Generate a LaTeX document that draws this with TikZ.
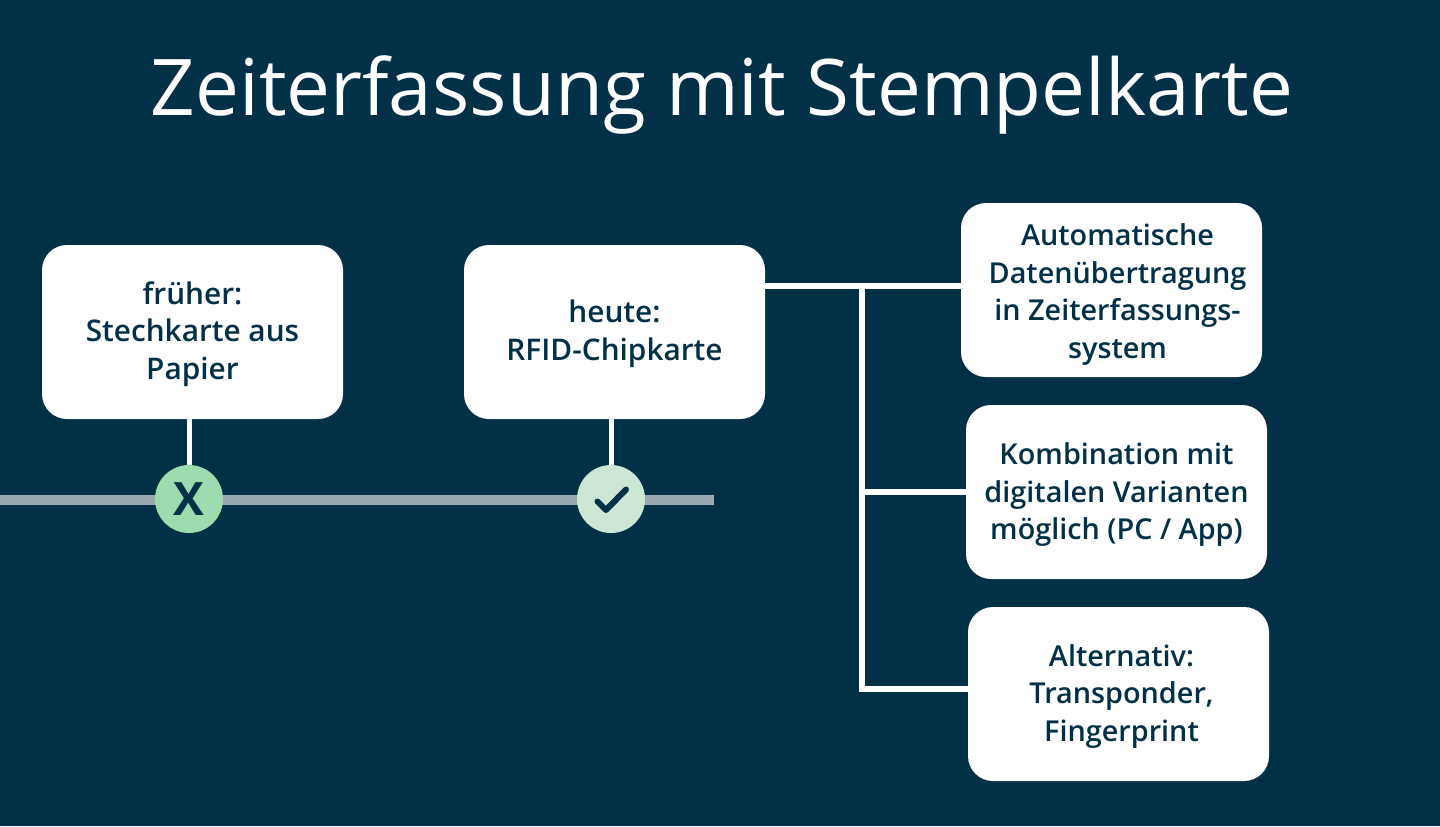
\documentclass[tikz,border=0pt]{standalone}
\usepackage{xcolor}
\usepackage{fontspec}
\setmainfont{Open Sans}
\newfontfamily\titlefont{Open Sans}
\newfontfamily\labelfont{Open Sans Semibold}
\usetikzlibrary{arrows.meta}
\definecolor{nightblue}{HTML}{023047}
\definecolor{railgrey}{HTML}{9AA8B0}
\definecolor{mintdark}{HTML}{9DDCAE}
\definecolor{mintlight}{HTML}{CCE8D5}
\newcommand{\lift}[1]{\rule{0pt}{#1pt}}
\tikzset{
	infobox/.style={fill=white, text=nightblue, rounded corners=12.5pt, minimum width=150.5pt, minimum height=87pt, inner sep=0pt, align=center, font=\labelfont\fontsize{14.4}{18.75}\selectfont},
	widebox/.style={infobox, font=\labelfont\fontsize{14.9}{18.75}\selectfont},
	stage/.style={shape=circle, minimum size=34pt, inner sep=0pt, text=nightblue},
	wire/.style={draw=white, line width=3pt},
	stem/.style={draw=white, line width=2.5pt},
	rail/.style={draw=railgrey, line width=5pt}
}

\begin{document}
\begin{tikzpicture}[x=0.5pt, y=-0.5pt]
	\useasboundingbox (0, 0) rectangle (1440, 826);
	\node [fill=nightblue, minimum width=720pt, minimum height=413pt, inner sep=0pt, anchor=north west] (back) at (0, 0) {};
	\node [text=white, anchor=base, font=\titlefont\fontsize{39.1}{47}\selectfont] (title) at (722, 115) {Zeiterfassung mit Stempelkarte};
	\node [widebox] (frueher) at (192.5, 332) {\lift{13.3}früher:\\Stechkarte aus\\Papier};
	\node [widebox] (heute) at (614.5, 332) {\lift{13.3}heute:\\RFID-Chipkarte};
	\node [infobox] (auto) at (1111.5, 290) {\lift{15.4}\hspace*{6pt}Automatische\\\hspace*{6pt}Datenübertragung\\\hspace*{6pt}in Zeiterfassungs-\\\hspace*{6pt}system};
	\node [infobox] (kombi) at (1116.5, 492) {\lift{13.9}Kombination mit\\digitalen Varianten\\möglich (PC / App)};
	\node [infobox] (alt) at (1118.5, 694) {\lift{13.4}\hspace*{3pt}Alternativ:\\\hspace*{3pt}Transponder,\\\hspace*{3pt}Fingerprint};
	\coordinate (railstart) at (0, 499.5);
	\coordinate (railend) at (714, 499.5);
	\coordinate (trunktop) at (862, 286);
	\coordinate (trunkmid) at (862, 492);
	\coordinate (trunkend) at (862, 689);
	\draw [rail] (railstart) to (railend);
	\node [stage, fill=mintdark, font=\fontspec{Open Sans Bold}\fontsize{23}{24}\selectfont] (cross) at (189, 499) {X};
	\node [stage, fill=mintlight] (tick) at (611, 499) {};
	\draw [stem] (cross |- frueher.south) to (cross.north);
	\draw [stem] (tick |- heute.south) to (tick.north);
	\draw [draw=nightblue, line width=3pt, line cap=round, line join=round] (597.5, 501.5) to (606, 510) to (626, 489.5);
	\draw [wire] (heute.east |- trunktop) to (auto.west |- trunktop);
	\draw [wire, line cap=rect] (trunktop) to (trunkend);
	\draw [wire] (trunkmid) to (kombi.west |- trunkmid);
	\draw [wire] (trunkend) to (alt.west |- trunkend);
\end{tikzpicture}
\end{document}
